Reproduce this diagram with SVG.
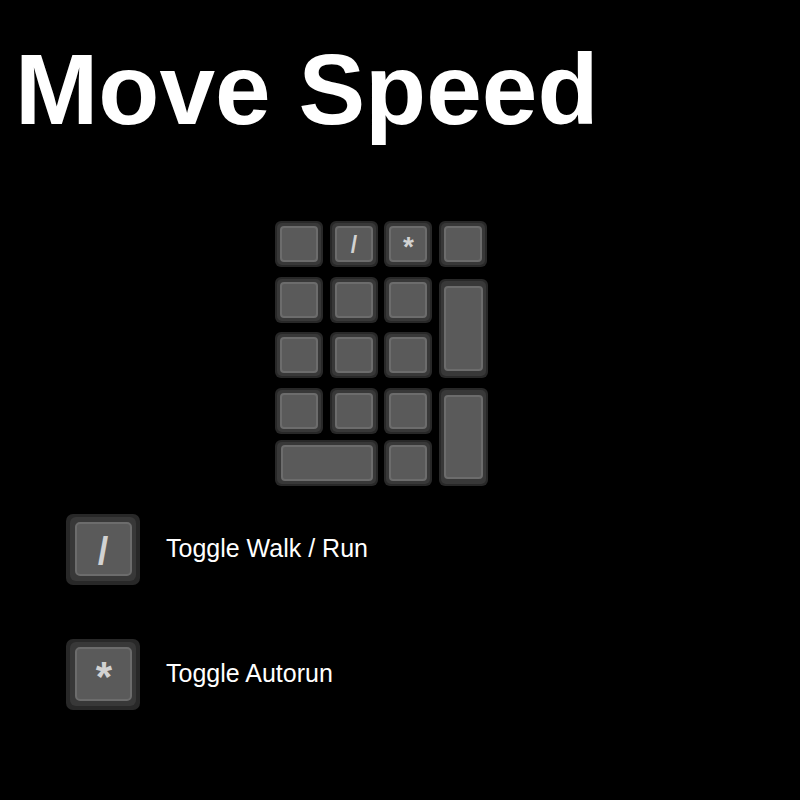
<svg xmlns="http://www.w3.org/2000/svg" width="800" height="800" viewBox="0 0 800 800">
  <style>
    .o { fill: #282828; }
    .m { fill: #383838; }
    .t { fill: #5a5a5a; stroke: #6c6c6c; stroke-width: 2; }
    .lg { fill: #d2d2d2; font-family: "Liberation Sans", Arial, sans-serif; font-weight: bold; text-anchor: middle; }
    .lbl { fill: #ffffff; font-family: "Liberation Sans", Arial, sans-serif; font-size: 25px; }
  </style>
  <rect x="0" y="0" width="800" height="800" fill="#000000"/>
  <text id="title" x="15" y="124" fill="#ffffff" font-family="Liberation Sans, Arial, sans-serif" font-weight="bold" font-size="100">Move Speed</text>

  <g id="keypad">
    <g id="k-r1c1"><rect class="o" x="275" y="221" width="48" height="46" rx="6"/><rect class="m" x="277" y="223" width="44" height="42" rx="5"/><rect class="t" x="281" y="227" width="36" height="34" rx="3"/></g>
    <g id="k-slash"><rect class="o" x="330" y="221" width="48" height="46" rx="6"/><rect class="m" x="332" y="223" width="44" height="42" rx="5"/><rect class="t" x="336" y="227" width="36" height="34" rx="3"/><text class="lg" x="354" y="253" font-size="23">/</text></g>
    <g id="k-star"><rect class="o" x="384" y="221" width="48" height="46" rx="6"/><rect class="m" x="386" y="223" width="44" height="42" rx="5"/><rect class="t" x="390" y="227" width="36" height="34" rx="3"/><text class="lg" x="408.5" y="256" font-size="28">*</text></g>
    <g id="k-r1c4"><rect class="o" x="439" y="221" width="48" height="46" rx="6"/><rect class="m" x="441" y="223" width="44" height="42" rx="5"/><rect class="t" x="445" y="227" width="36" height="34" rx="3"/></g>

    <g id="k-r2c1"><rect class="o" x="275" y="277" width="48" height="46" rx="6"/><rect class="m" x="277" y="279" width="44" height="42" rx="5"/><rect class="t" x="281" y="283" width="36" height="34" rx="3"/></g>
    <g id="k-r2c2"><rect class="o" x="330" y="277" width="48" height="46" rx="6"/><rect class="m" x="332" y="279" width="44" height="42" rx="5"/><rect class="t" x="336" y="283" width="36" height="34" rx="3"/></g>
    <g id="k-r2c3"><rect class="o" x="384" y="277" width="48" height="46" rx="6"/><rect class="m" x="386" y="279" width="44" height="42" rx="5"/><rect class="t" x="390" y="283" width="36" height="34" rx="3"/></g>
    <g id="k-plus"><rect class="o" x="439" y="279" width="49" height="99" rx="6"/><rect class="m" x="441" y="281" width="45" height="95" rx="5"/><rect class="t" x="445" y="287" width="37" height="83" rx="3"/></g>

    <g id="k-r3c1"><rect class="o" x="275" y="332" width="48" height="46" rx="6"/><rect class="m" x="277" y="334" width="44" height="42" rx="5"/><rect class="t" x="281" y="338" width="36" height="34" rx="3"/></g>
    <g id="k-r3c2"><rect class="o" x="330" y="332" width="48" height="46" rx="6"/><rect class="m" x="332" y="334" width="44" height="42" rx="5"/><rect class="t" x="336" y="338" width="36" height="34" rx="3"/></g>
    <g id="k-r3c3"><rect class="o" x="384" y="332" width="48" height="46" rx="6"/><rect class="m" x="386" y="334" width="44" height="42" rx="5"/><rect class="t" x="390" y="338" width="36" height="34" rx="3"/></g>

    <g id="k-r4c1"><rect class="o" x="275" y="388" width="48" height="46" rx="6"/><rect class="m" x="277" y="390" width="44" height="42" rx="5"/><rect class="t" x="281" y="394" width="36" height="34" rx="3"/></g>
    <g id="k-r4c2"><rect class="o" x="330" y="388" width="48" height="46" rx="6"/><rect class="m" x="332" y="390" width="44" height="42" rx="5"/><rect class="t" x="336" y="394" width="36" height="34" rx="3"/></g>
    <g id="k-r4c3"><rect class="o" x="384" y="388" width="48" height="46" rx="6"/><rect class="m" x="386" y="390" width="44" height="42" rx="5"/><rect class="t" x="390" y="394" width="36" height="34" rx="3"/></g>
    <g id="k-enter"><rect class="o" x="439" y="388" width="49" height="98" rx="6"/><rect class="m" x="441" y="390" width="45" height="94" rx="5"/><rect class="t" x="445" y="396" width="37" height="82" rx="3"/></g>

    <g id="k-zero"><rect class="o" x="275" y="440" width="103" height="46" rx="6"/><rect class="m" x="277" y="442" width="99" height="42" rx="5"/><rect class="t" x="282" y="446" width="90" height="34" rx="3"/></g>
    <g id="k-dot"><rect class="o" x="384" y="440" width="48" height="46" rx="6"/><rect class="m" x="386" y="442" width="44" height="42" rx="5"/><rect class="t" x="390" y="446" width="36" height="34" rx="3"/></g>
  </g>

  <g id="legend-slash">
    <rect class="o" x="66" y="514" width="74" height="71" rx="7"/>
    <rect class="m" x="70" y="517" width="66" height="64" rx="6"/>
    <rect class="t" x="76" y="523" width="55" height="52" rx="4"/>
    <text class="lg" x="103" y="564" font-size="38">/</text>
    <text class="lbl" x="166" y="557">Toggle Walk / Run</text>
  </g>
  <g id="legend-star">
    <rect class="o" x="66" y="639" width="74" height="71" rx="7"/>
    <rect class="m" x="70" y="642" width="66" height="64" rx="6"/>
    <rect class="t" x="76" y="648" width="55" height="52" rx="4"/>
    <text class="lg" x="104" y="691" font-size="42">*</text>
    <text class="lbl" x="166" y="682">Toggle Autorun</text>
  </g>
</svg>
